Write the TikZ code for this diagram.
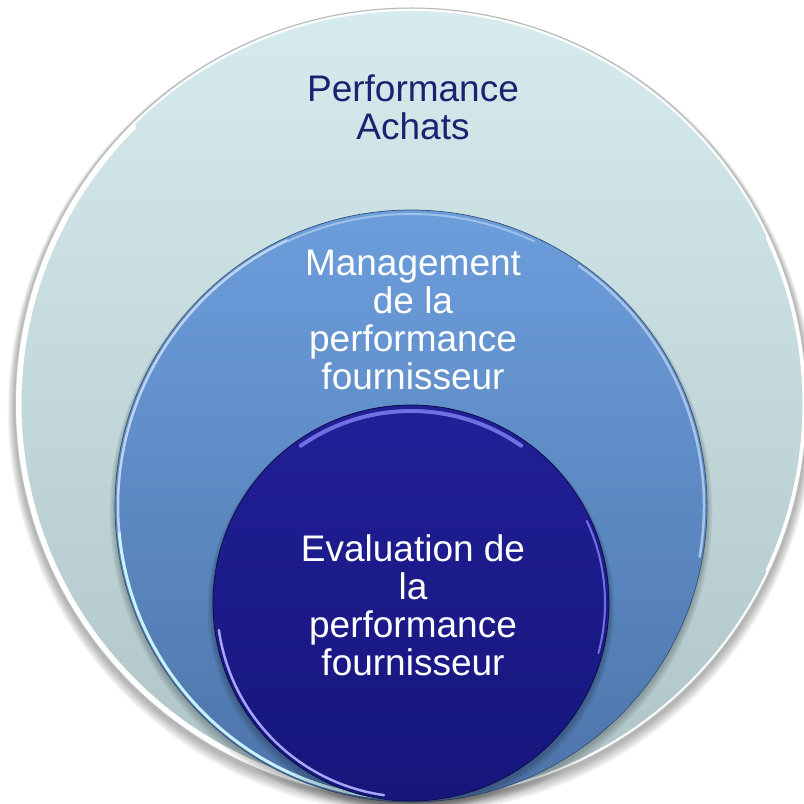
\documentclass[tikz,border=0pt]{standalone}
\usepackage{fontspec}
\setmainfont{Liberation Sans}
\definecolor{outerTop}{HTML}{D5EBED}
\definecolor{outerBot}{HTML}{AEC4C7}
\definecolor{midTop}{HTML}{6C9EDC}
\definecolor{midBot}{HTML}{4D74A9}
\definecolor{innTop}{HTML}{211F96}
\definecolor{innBot}{HTML}{16167C}
\definecolor{titleInk}{HTML}{1F2070}
\definecolor{midRim}{HTML}{C8F2F8}
\definecolor{innRim}{HTML}{A6A6F6}
\definecolor{innGlow}{HTML}{7070E2}
\begin{document}
\begin{tikzpicture}[x=1pt,y=1pt,
  ring/.style={circle, inner sep=0pt, outer sep=0pt, minimum size=#1},
  caption/.style={align=center, inner sep=0pt, font=\fontsize{37}{38}\selectfont},
  shade ring/.style={fill=black, opacity=0.04}]
\useasboundingbox (0,0) rectangle (804,804);
\clip (0,0) rectangle (804,804);
\fill[white] (0,0) rectangle (804,804);

% soft drop shadow under the big disc
\foreach \k in {1,...,8}
  \fill[shade ring] (411,{398-\k*0.6}) circle ({396pt+\k*0.9pt});

% outer disc
\node[ring=792pt, top color=outerTop, bottom color=outerBot,
      draw=gray!55, line width=1pt] (outer) at (411,400) {};
\draw[white, line width=2pt]
  (411,400) circle (394pt);
\draw[white, line width=5pt, line cap=round]
  (411,400) ++(135:392) arc[start angle=135, end angle=268, radius=392pt];
\draw[white, line width=3pt, line cap=round]
  (411,400) ++(-25:393) arc[start angle=-25, end angle=25, radius=393pt];

% shadow under the middle disc
\foreach \k in {1,...,6}
  \fill[shade ring] (411,{296-\k*0.6}) circle ({296pt+\k*0.9pt});

% middle disc
\node[ring=592pt, top color=midTop, bottom color=midBot,
      draw=midBot!70!black, line width=0.7pt] (middle) at (411,298) {};
\draw[midRim, line width=3pt, line cap=round]
  (411,298) ++(185:293) arc[start angle=185, end angle=268, radius=293pt];
\draw[white!55!midTop, line width=2.5pt, line cap=round]
  (411,298) ++(115:293) arc[start angle=115, end angle=185, radius=293pt];
\draw[white!40!midTop, line width=2.5pt, line cap=round]
  (411,298) ++(-10:293) arc[start angle=-10, end angle=55, radius=293pt];
\draw[white!35!midTop, line width=2pt, line cap=round]
  (411,298) ++(65:292) arc[start angle=65, end angle=115, radius=292pt];

% shadow under the inner disc
\foreach \k in {1,...,6}
  \fill[shade ring] (411,{199-\k*0.6}) circle ({198pt+\k*0.9pt});

% inner disc
\node[ring=396pt, top color=innTop, bottom color=innBot,
      draw=innBot!60!black, line width=0.8pt] (inner) at (411,201) {};
\draw[innGlow, line width=4pt, line cap=round]
  (411,201) ++(55:192) arc[start angle=55, end angle=125, radius=192pt];
\draw[innRim, line width=2.5pt, line cap=round]
  (411,201) ++(188:194) arc[start angle=188, end angle=262, radius=194pt];
\draw[innGlow, line width=2pt, line cap=round]
  (411,201) ++(-15:194) arc[start angle=-15, end angle=25, radius=194pt];

% captions
\node[caption, text=titleInk] (tAchats) at (413,697) {Performance\\Achats};
\node[caption, text=white] (tManage) at (413,484)
  {Management\\de la\\performance\\fournisseur};
\node[caption, text=white] (tEval) at (413,199)
  {Evaluation de\\la\\performance\\fournisseur};
\end{tikzpicture}
\end{document}
